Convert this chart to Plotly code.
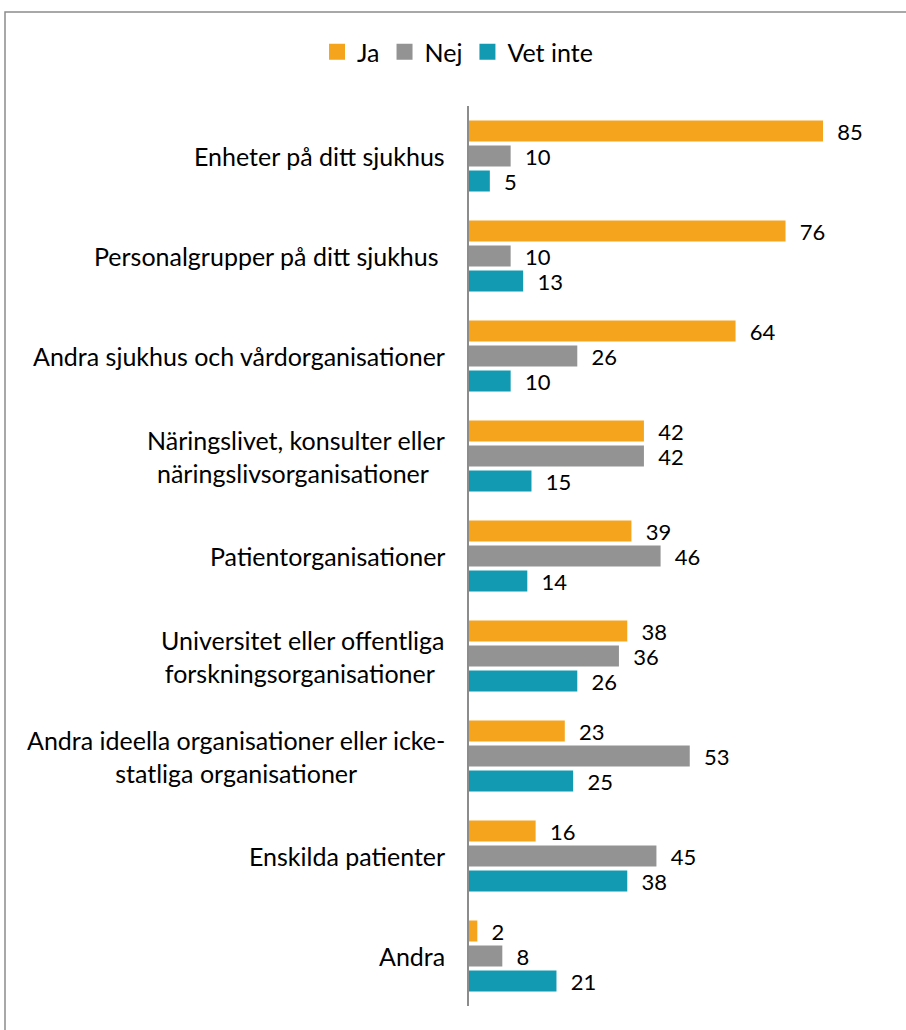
import plotly.graph_objects as go

categories = [
    "Enheter på ditt sjukhus",
    "Personalgrupper på ditt sjukhus\u00a0",
    "Andra sjukhus och vårdorganisationer",
    "Näringslivet, konsulter eller<br>näringslivsorganisationer\u00a0",
    "Patientorganisationer",
    "Universitet eller offentliga<br>forskningsorganisationer\u00a0",
    "Andra ideella organisationer eller icke-<br>statliga organisationer",
    "Enskilda patienter",
    "Andra",
]
series_names = ["Ja", "Nej", "Vet inte"]
ja = [85, 76, 64, 42, 39, 38, 23, 16, 2]
nej = [10, 10, 26, 42, 46, 36, 53, 45, 8]
vet_inte = [5, 13, 10, 15, 14, 26, 25, 38, 21]
colors = ["#F5A51D", "#939393", "#129AB2"]

FONT = "Lato"
FS = 22
FS_CAT = 25
W, H = 906, 1030
ML, MR, MT, MB = 469, 6, 106, 24
px_per_unit = 4.165
xmax = (W - ML - MR) / px_per_unit

fig = go.Figure()
for name, vals, col in zip(series_names, [ja, nej, vet_inte], colors):
    fig.add_trace(go.Bar(
        y=categories, x=vals, name=name, orientation="h",
        marker=dict(color=col, line=dict(width=0)),
        text=vals, texttemplate="\u00a0\u00a0%{x}", textposition="outside",
        constraintext="none",
        textfont=dict(family=FONT, size=FS, color="#000000"),
        cliponaxis=False, showlegend=False, legendgroup=name,
    ))
# legend entries with larger square swatches
for name, col in zip(series_names, colors):
    fig.add_trace(go.Scatter(
        x=[None], y=[None], mode="markers", name=name, legendgroup=name,
        marker=dict(symbol="square", size=16, color=col), showlegend=True,
    ))

for cat in categories:
    fig.add_annotation(
        x=0, y=cat, xref="x", yref="y", text=cat, showarrow=False,
        xanchor="right", yanchor="middle", align="center", xshift=-22,
        font=dict(family=FONT, size=FS_CAT, color="#000000"),
    )

# outer border
pw = W - ML - MR
ph = H - MT - MB
fig.add_shape(type="rect", xref="paper", yref="paper",
              x0=(5 - ML) / pw, x1=(920 - ML) / pw,
              y0=(H - MB - 1045) / ph, y1=(H - MB - 12) / ph,
              line=dict(color="#8C8C8C", width=1.5), fillcolor="rgba(0,0,0,0)", layer="below")

fig.update_layout(
    width=W, height=H,
    margin=dict(l=ML, r=MR, t=MT, b=MB),
    paper_bgcolor="white", plot_bgcolor="white",
    barmode="group", bargap=0.25, bargroupgap=0.16,
    font=dict(family=FONT, size=FS, color="#000000"),
    showlegend=True,
    legend=dict(orientation="h", xref="container", yref="container",
                x=0.505, xanchor="center", y=1 - 52 / H, yanchor="middle",
                font=dict(family=FONT, size=FS_CAT), traceorder="normal",
                itemwidth=30),
    xaxis=dict(range=[0, xmax], visible=False, showgrid=False, zeroline=False),
    yaxis=dict(categoryorder="array", categoryarray=categories, autorange="reversed",
               showticklabels=False, showgrid=False, zeroline=False,
               showline=True, linecolor="#8C8C8C", linewidth=1.5, ticks=""),
)

fig.write_html("out.html", config={"displayModeBar": False},
               post_script="document.body.style.margin='0';document.body.style.overflow='hidden';")
